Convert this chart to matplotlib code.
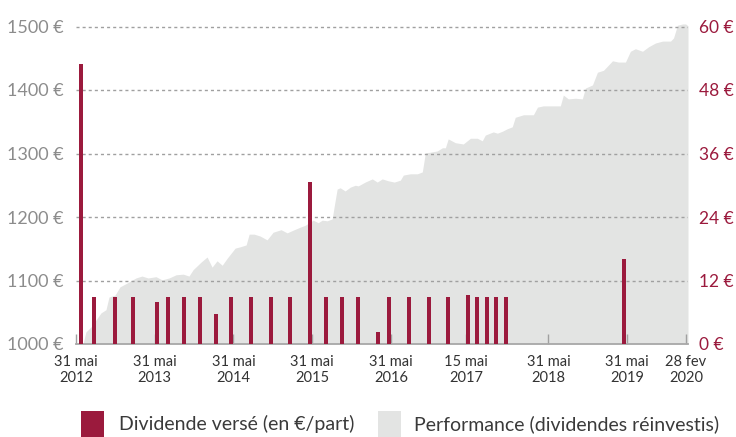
import matplotlib
matplotlib.use("Agg")
import matplotlib.pyplot as plt
from matplotlib.patches import Rectangle
import pandas as pd

plt.rcParams['font.family'] = ['Lato', 'DejaVu Sans']

# ---- Data ----
perf_dates = [
    "2012-07-02", "2012-07-16", "2012-08-09", "2012-09-01", "2012-09-24", "2012-10-17",
    "2012-10-31", "2012-11-28", "2012-12-21", "2013-01-23", "2013-03-05", "2013-04-02",
    "2013-04-30", "2013-06-06", "2013-07-04", "2013-08-06", "2013-09-07", "2013-10-10",
    "2013-11-06", "2013-11-25", "2014-01-01", "2014-01-29", "2014-02-21", "2014-03-16",
    "2014-04-09", "2014-05-02", "2014-06-08", "2014-07-01", "2014-07-29", "2014-08-12",
    "2014-09-04", "2014-10-02", "2014-11-03", "2014-12-01", "2015-01-07", "2015-02-04",
    "2015-03-09", "2015-04-06", "2015-04-29", "2015-06-05", "2015-06-28", "2015-07-17",
    "2015-08-09", "2015-09-01", "2015-09-10", "2015-09-24", "2015-10-08", "2015-10-31",
    "2015-11-24", "2015-12-17", "2015-12-31", "2016-02-01", "2016-03-05", "2016-03-28",
    "2016-04-20", "2016-05-18", "2016-06-15", "2016-07-13", "2016-07-27", "2016-08-28",
    "2016-09-30", "2016-10-23", "2016-11-06", "2016-11-29", "2016-12-31", "2017-01-24",
    "2017-02-07", "2017-02-20", "2017-03-25", "2017-05-01", "2017-06-03", "2017-07-05",
    "2017-07-28", "2017-08-11", "2017-09-17", "2017-10-06", "2017-10-29", "2017-11-21",
    "2017-12-14", "2017-12-28", "2018-02-04", "2018-03-22", "2018-04-10", "2018-05-07",
    "2018-07-25", "2018-08-08", "2018-08-31", "2018-10-03", "2018-11-04", "2018-11-18",
    "2018-12-21", "2019-01-13", "2019-02-10", "2019-03-24", "2019-04-20", "2019-05-23",
    "2019-06-15", "2019-07-08", "2019-08-10", "2019-09-07", "2019-10-09", "2019-11-11",
    "2019-12-18", "2020-01-01", "2020-01-19", "2020-02-12", "2020-02-26", "2020-03-08",
]
perf_values = [
    1000, 1019, 1027, 1038, 1049, 1054,
    1074, 1077, 1090, 1096, 1104, 1107,
    1104, 1106, 1101, 1104, 1109, 1110,
    1107, 1117, 1129, 1137, 1121, 1131,
    1124, 1135, 1151, 1153, 1156, 1173,
    1173, 1170, 1164, 1176, 1180, 1175,
    1180, 1184, 1187, 1195, 1191, 1195,
    1194, 1197, 1216, 1244, 1246, 1241,
    1247, 1250, 1249, 1255, 1260, 1255,
    1260, 1257, 1255, 1258, 1266, 1268,
    1268, 1271, 1301, 1302, 1304, 1309,
    1309, 1323, 1317, 1315, 1324, 1324,
    1320, 1329, 1334, 1332, 1335, 1339,
    1342, 1357, 1361, 1361, 1373, 1375,
    1375, 1392, 1386, 1387, 1386, 1403,
    1408, 1428, 1431, 1446, 1444, 1444,
    1461, 1465, 1461, 1468, 1474, 1477,
    1477, 1482, 1502, 1504, 1504, 1501,
]

div_dates = [
    "2012-06-22", "2012-08-22", "2012-11-28", "2013-02-18", "2013-06-09", "2013-08-01",
    "2013-10-13", "2013-12-26", "2014-03-10", "2014-05-19", "2014-08-20", "2014-11-21",
    "2015-02-17", "2015-05-21", "2015-08-03", "2015-10-16", "2015-12-29", "2016-04-02",
    "2016-05-23", "2016-08-23", "2016-11-24", "2017-02-20", "2017-05-24", "2017-07-05",
    "2017-08-20", "2017-10-01", "2017-11-17", "2019-05-18",
]
div_values = [
    53.0, 8.8, 8.8, 8.8, 7.9, 8.8,
    8.8, 8.8, 5.6, 8.8, 8.8, 8.8,
    8.8, 30.6, 8.8, 8.8, 8.8, 2.2,
    8.8, 8.8, 8.8, 8.8, 9.2, 8.8,
    8.8, 8.8, 8.8, 16.0,
]

tick_dates = ["2012-05-31", "2013-05-31", "2014-05-31", "2015-05-31", "2016-05-31",
              "2017-05-15", "2018-05-31", "2019-05-31", "2020-02-28"]
tick_labels = ["31 mai\n2012", "31 mai\n2013", "31 mai\n2014", "31 mai\n2015", "31 mai\n2016",
               "15 mai\n2017", "31 mai\n2018", "31 mai\n2019", "28 fev\n2020"]

left_ticks = [1000, 1100, 1200, 1300, 1400, 1500]
left_labels = ["1000 €", "1100 €", "1200 €", "1300 €", "1400 €", "1500 €"]
right_ticks = [0, 12, 24, 36, 48, 60]
right_labels = ["0 €", "12 €", "24 €", "36 €", "48 €", "60 €"]

legend_labels = ["Dividende versé (en €/part)", "Performance (dividendes réinvestis)"]

# ---- Styles ----
RED = "#9b1a3d"
AREA = "#e3e4e3"
GRID = "#a0a0a0"
LEFT_TXT = "#8c8c8c"
TXT = "#333333"

pdates = pd.to_datetime(perf_dates)
ddates = pd.to_datetime(div_dates)
tdates = pd.to_datetime(tick_dates)

W, H = 736, 437
fig = plt.figure(figsize=(W / 100, H / 100), dpi=100)
ax = fig.add_axes([76 / W, 93 / H, 612 / W, (344 - 13.8) / H])
ax2 = ax.twinx()

ax.fill_between(pdates, 1000, perf_values, color=AREA, linewidth=0, zorder=1)
ax.set_ylim(1000, 1520)
ax.set_xlim(pd.Timestamp("2012-05-31"), pd.Timestamp("2020-03-08"))

for v in left_ticks[1:]:
    ax.axhline(v, color=GRID, linestyle=(0, (2.2, 2.2)), linewidth=1.0, zorder=2)

ax2.bar(ddates, div_values, width=18, color=RED, zorder=3, align='center')
ax2.set_ylim(0, 60 * 520 / 500)

for a in (ax, ax2):
    for s in a.spines.values():
        s.set_visible(False)
ax.spines['bottom'].set_visible(True)
ax.spines['bottom'].set_color("#a8a8a8")
ax.spines['bottom'].set_linewidth(1.3)

ax.set_yticks(left_ticks)
ax.set_yticklabels(left_labels)
ax.tick_params(axis='y', length=0, pad=9, labelsize=13, labelcolor=LEFT_TXT)
ax2.set_yticks(right_ticks)
ax2.set_yticklabels(right_labels)
ax2.tick_params(axis='y', length=0, pad=8, labelsize=12.5, labelcolor=RED)

ax.set_xticks(tdates)
ax.set_xticklabels(tick_labels)
ax.tick_params(axis='x', direction='in', length=7, width=1, color="#a0a0a0",
               labelsize=10.5, labelcolor=TXT, pad=8)
for lbl in ax.get_xticklabels():
    lbl.set_linespacing(1.15)

# ---- Legend (manual, figure pixel coordinates) ----
def fx(px):
    return px / W

def fy(py):
    return 1 - py / H

fig.patches.append(Rectangle((fx(81), fy(437)), 23 / W, 26 / H, transform=fig.transFigure,
                             facecolor=RED, edgecolor='none'))
fig.text(fx(119), fy(424), legend_labels[0], fontsize=14, color="#3a3a3a",
         ha='left', va='center')
fig.patches.append(Rectangle((fx(378), fy(437)), 23 / W, 26 / H, transform=fig.transFigure,
                             facecolor=AREA, edgecolor='none'))
fig.text(fx(414), fy(424), legend_labels[1], fontsize=14, color="#3a3a3a",
         ha='left', va='center')

fig.savefig("out.png", dpi=100)
